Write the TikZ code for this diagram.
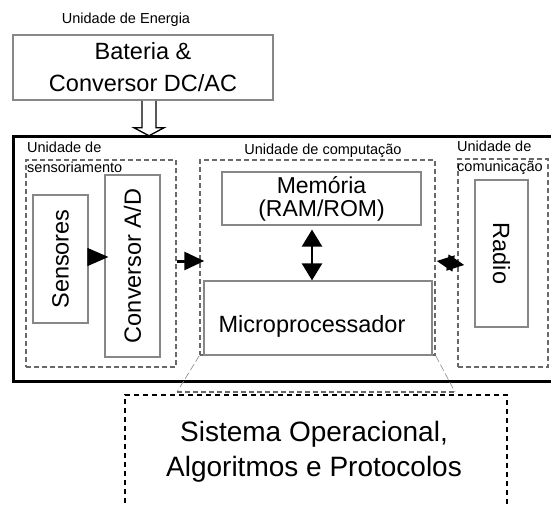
\documentclass[tikz,border=0pt]{standalone}
\usepackage{fontspec}
\setmainfont{Liberation Sans}
\usetikzlibrary{arrows.meta}
\definecolor{boxgray}{RGB}{135,135,135}
\definecolor{dashgray}{RGB}{105,105,105}
\definecolor{thingray}{RGB}{150,150,150}
\tikzset{
  box/.style={draw=boxgray, line width=1.2pt, inner sep=0pt},
  unitbox/.style={draw=dashgray, line width=1.5pt, dash pattern=on 5pt off 3pt, inner sep=0pt},
  bigtext/.style={font=\fontsize{23.5}{21}\selectfont, align=center},
  smalltext/.style={font=\fontsize{14.5}{20}\selectfont, inner sep=0pt},
  frame/.style={line width=3pt, line join=miter},
  hollow/.style={draw=black, fill=white, line width=1.3pt, line join=miter},
  flow/.style={line width=3pt, -{Triangle[length=20pt,width=18pt]}},
  bus/.style={line width=2.5pt, {Triangle[length=17pt,width=20pt]}-{Triangle[length=17pt,width=20pt]}},
  link/.style={line width=2pt, {Triangle[length=17pt,width=16pt]}-{Triangle[length=17pt,width=16pt]}},
  zoomline/.style={draw=thingray, line width=0.7pt, dash pattern=on 7pt off 3pt},
  zoomedge/.style={draw=dashgray, line width=1.3pt, dash pattern=on 5pt off 3pt},
  osframe/.style={draw=black, line width=1.5pt, dash pattern=on 5pt off 4pt},
}
\begin{document}
\begin{tikzpicture}[x=1pt,y=-1pt]
\useasboundingbox (0,0) rectangle (551,506);

% power unit
\node[smalltext] (enlabel) at (126,20) {Unidade de Energia};
\node[box, draw=boxgray, line width=1.5pt, minimum width=260pt, minimum height=65pt,
      font=\fontsize{23.5}{32}\selectfont, align=center] (bat) at (143,67.5)
      {Bateria \&\\Conversor DC/AC};
\draw[hollow] ([xshift=-1pt]bat.south) -- ++(0,27) -- ++(-8,0) -- ++(15,8)
      -- ++(15,-8) -- ++(-8,0) -- ++(0,-27);

% node frame (open on the right)
\coordinate (ftr) at (551,136);
\coordinate (ftl) at (13,136);
\coordinate (fbl) at (13,381);
\coordinate (fbr) at (551,381);
\draw[frame] (ftr) -- (ftl) -- (fbl) -- (fbr);

% sensing unit
\node[unitbox, minimum width=150pt, minimum height=207pt] (sensing) at (101,263.5) {};
\node[smalltext, anchor=west, align=left] (senslabel) at (27,157) {Unidade de\\sensoriamento};
\node[box, minimum width=55pt, minimum height=128pt] (sens) at (60.5,259)
      {\fontsize{23.5}{20}\selectfont\rotatebox{90}{Sensores}};
\node[box, minimum width=55pt, minimum height=182pt] (adc) at (132.5,266)
      {\fontsize{23.5}{20}\selectfont\rotatebox{90}{Conversor A/D}};

% computing unit
\node[unitbox, minimum width=235pt, minimum height=195pt] (comp) at (317.5,257.5) {};
\node[smalltext] (complabel) at (323,151) {Unidade de computação};
\node[box, font=\fontsize{23}{23}\selectfont, align=center,
      minimum width=199pt, minimum height=53pt] (mem) at (321.5,198.5)
      {Memória\\(RAM/ROM)};
\node[box, minimum width=228pt, minimum height=74pt] (mcu) at (318,318) {};
\node[bigtext, inner sep=0pt] (mcutext) at (312,326) {Microprocessador};

% communication unit
\node[unitbox, minimum width=90pt, minimum height=208pt] (comm) at (503,263) {};
\node[smalltext, anchor=west, align=left] (commlabel) at (457,158) {Unidade de\\comunicação};
\node[box, minimum width=53pt, minimum height=147pt] (radio) at (501.5,253.5)
      {\fontsize{23.5}{20}\selectfont\rotatebox{-90}{Radio}};

% data paths
\draw[line width=1pt, -{Triangle[length=21pt,width=18pt]}]
      ([yshift=2pt]sens.east) -- ([xshift=4pt,yshift=9pt]adc.west);
\draw[flow] ([yshift=2.5pt]sensing.east) -- ([xshift=5pt,yshift=-3.5pt]comp.west);
\draw[bus] ([xshift=-9.5pt,yshift=-4pt]mem.south) -- ([xshift=-6pt]mcu.north);
\draw[link] ([xshift=1pt,yshift=-3.5pt]comp.east) -- ([xshift=7pt,yshift=-2pt]comm.west);

% software layer, detailed below the node
\coordinate (zl) at (177,392);
\coordinate (zr) at (455,392);
\draw[zoomline] (comp.south west) -- (zl);
\draw[zoomline] (comp.south east) -- (zr);
\draw[zoomedge] (zl) -- (zr);
\coordinate (obl) at (125,512);
\coordinate (otl) at (125,395);
\coordinate (otr) at (507,395);
\coordinate (obr) at (507,512);
\draw[osframe] (obl) -- (otl) -- (otr) -- (obr);
\node[font=\fontsize{28}{35}\selectfont, align=center] (os) at (314,452)
      {Sistema Operacional,\\Algoritmos e Protocolos};
\end{tikzpicture}
\end{document}
